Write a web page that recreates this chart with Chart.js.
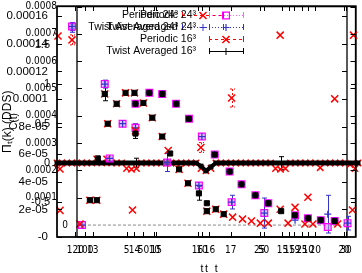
<!DOCTYPE html>
<html><head><meta charset="utf-8">
<script src="https://cdn.jsdelivr.net/npm/chart.js@4.4.1/dist/chart.umd.min.js"></script>
<style>
html,body{margin:0;padding:0;background:#fff;}
#wrap{position:relative;width:362px;height:273px;overflow:hidden;}
#wrap canvas{position:absolute;left:0;top:0;}
</style></head><body>
<div id="wrap">
<canvas id="cP" width="362" height="273"></canvas>
<canvas id="cQ" width="362" height="273"></canvas>
<canvas id="cR" width="362" height="273"></canvas>
</div>
<script>
// ---------- tick labels ----------
const xTickValues = [1.85, 2.8, 3.6, 7.0, 7.8, 8.7, 9.8, 10.0, 14.15, 14.6, 15.35, 17.5, 20.4, 20.8, 22.7, 23.4, 23.9, 24.65, 25.3, 26.0, 28.9, 29.1];
const xTickLabels = ["120","100","13","5","14","50","10","15","16","10","16","17","25","50","15","15","19","25","10","20","20","30"];

const yTicksA = [0.0001,0.0002,0.0003,0.0004,0.0005,0.0006,0.0007,0.0008];
const yLabelsA = ["0.0001","0.0002","0.0003","0.0004","0.0005","0.0006","0.0007","0.0008"];
const yTicksB = [0,2e-5,4e-5,6e-5,8e-5,1e-4,1.2e-4,1.4e-4,1.6e-4];
const yLabelsB = ["-0","2e-05","4e-05","6e-05","8e-05","0.0001","0.00012","0.00014","0.00016"];
const yTicksC = [-0.5,0,0.5,1,1.5];
const yLabelsC = ["-0.5","0","0.5","1","1.5"];

// ---------- Π_t(k) (DDS), main panel ----------
const p24T = [1.5,2.5,4.8,5.3,6.6,7.9,7.9,9.3,10.6,11.1,12.0,13.3,14.3,14.6,15.9,17.4,17.6,18.6,20.0,20.9,21.3,24.0,25.3,26.6,27.3,28.0,29.3];
const p24V = [7.27e-4,0,5.16e-4,2.44e-4,3.71e-4,4.44e-4,3.56e-4,4.84e-4,4.80e-4,2.29e-4,4.44e-4,3.89e-4,1.45e-4,3.24e-4,2.58e-4,1.96e-4,8.4e-5,1.49e-4,1.09e-4,4.4e-5,8.0e-5,3.6e-5,2.5e-5,1.8e-5,-7e-6,1.5e-5,7e-6];
const t24T = [1.5,2.5,4.8,5.3,6.6,7.9,7.9,9.3,10.6,11.1,12.0,13.3,14.3,14.6,15.9,17.4,17.6,18.6,20.0,20.9,21.3,24.0,25.3,26.6,27.3,28.0,29.3];
const t24V = [7.27e-4,0,5.16e-4,2.44e-4,3.71e-4,4.44e-4,3.56e-4,4.84e-4,4.80e-4,2.29e-4,4.44e-4,3.89e-4,1.45e-4,3.24e-4,2.58e-4,1.96e-4,8.4e-5,1.49e-4,1.09e-4,4.4e-5,8.0e-5,1.8e-5,2.5e-5,1.8e-5,4.0e-5,1.5e-5,7e-6];
const t24E = [1.45e-5,0,1.45e-5,0,0,0,1.5e-5,0,0,3.3e-5,0,0,0,0,0,0,2.5e-5,0,0,5.5e-5,0,0,0,0,6.9e-5,0,2.5e-5];
const p16T = [2.3,3.3,4.0,4.8,5.1,6.0,6.9,7.6,7.8,7.9,8.7,9.6,10.6,11.2,12.3,13.2,14.5,15.1,16.0,16.8,17.6,17.7,18.7,19.6,20.5,21.3,22.5,22.5,23.3,24.0,25.0,25.3,25.8,28.0,28.3,29.8,29.9];
const p16V = [4e-6,9.1e-5,9.1e-5,4.80e-4,3.71e-4,4.44e-4,4.84e-4,5.5e-5,4.84e-4,3.45e-4,4.47e-4,3.93e-4,3.24e-4,2.73e-4,2.04e-4,1.53e-4,2.84e-4,5.1e-5,5.8e-5,4.0e-5,4.65e-4,2.9e-5,2.2e-5,1.5e-5,7e-6,7e-6,5.8e-5,6.95e-4,7e-6,6.5e-5,4e-6,1.02e-4,4e-6,4.62e-4,4e-6,5.5e-5,6.95e-4];
const p16E = [0,0,0,0,0,0,0,0,0,0,0,0,0,0,0,0,1.8e-5,0,0,0,3.3e-5,0,0,0,0,0,0,0,0,0,0,0,0,0,0,0,0];
const t16T = [3.3,4.0,4.1,4.8,5.1,6.0,6.9,7.8,7.9,7.9,8.7,9.3,9.6,10.6,10.6,11.4,12.0,12.3,13.2,13.3,14.3,15.1,15.1,15.9,16.0,16.8,17.4,18.6,20.0,21.3,22.6,24.0,25.3,26.6,28.0];
const t16V = [9.1e-5,9.1e-5,2.44e-4,4.80e-4,3.71e-4,4.44e-4,4.84e-4,4.84e-4,4.44e-4,3.35e-4,4.47e-4,4.84e-4,3.93e-4,4.80e-4,3.24e-4,2.62e-4,4.44e-4,2.04e-4,1.53e-4,3.89e-4,1.16e-4,8.0e-5,5.1e-5,2.58e-4,5.8e-5,4.0e-5,1.96e-4,1.49e-4,1.09e-4,8.0e-5,5.1e-5,3.6e-5,2.5e-5,1.8e-5,1.5e-5];
const t16E = [0,0,0,2.5e-5,0,0,0,0,0,1.8e-5,0,0,0,0,0,0,0,0,0,0,2.5e-5,0,0,0,0,0,0,0,0,0,0,0,0,0,0];
const zeroT = [2.6, 29.1];
const zeroV = [0, 0];

// ---------- Π_t(k) (DDS), lower-scale panel ----------
const bRedT = [0.1, 0.3, 0.3, 1.5];
const bRedV = [1.457e-4, 1.93e-5, 4.93e-5, 1.429e-4];
const bRedE = [0, 0, 0, 3.6e-6];
const bBlueT = [1.5];
const bBlueV = [1.514e-4];
const bBlueE = [3e-6];

// ---------- C(t) ----------
const cT = [0,0.5,1,1.5,2,2.5,3,3.5,4,4.5,5,5.5,6,6.5,7,7.5,8,8.5,9,9.5,10,10.5,11,11.5,12,12.5,13,13.5,14,14.5,15,15.5,16,16.5,17,17.5,18,18.5,19,19.5,20,20.5,21,21.5,22,22.5,23,23.5,24,24.5,25,25.5,26,26.5,27,27.5,28,28.5,29,29.5,30,30.3];
const cTwist = [0,0,0,0,0,0,0,0,0,0,
                0,0,0,0,0,0,0,0,0,0,
                0,0,0,0,0,0,0,0,0,-0.04,
                -0.1,-0.05,0,0,0,0,0,0,0,0,
                0,0,0,0,0,0,0,0,0,0,
                0,0,0,0,0,0,0,0,0,0,
                0,0];
const cTwistE = [0,0,0,0,0,0,0,0,0,0,
                 0,0,0,0,0,0,0.06,0,0,0,
                 0,0,0,0,0,0,0,0,0,0,
                 0,0,0,0,0,0,0,0,0,0,
                 0,0,0,0,0,0.08,0,0,0,0,
                 0,0,0,0,0,0,0,0,0,0,
                 0,0];
const cPer = [0,0,0,0,0,0,0,0,0.05,0,
              0.05,0,0,0,-0.07,-0.08,-0.07,0,0,0,
              0,0,0,0,0,0,0,0,0,-0.07,
              -0.1,-0.07,0,0,0,0,0,0,0,0,
              0,0,0,0,-0.07,-0.08,-0.07,0,0,0,
              0,0,0,-0.06,0,0,0,0,0,-0.02,
              -0.07,0];

// ---------- helpers ----------
const SANS = "'Liberation Sans', Arial, Helvetica, sans-serif";
const NARROW = "'Liberation Sans Narrow', 'Arial Narrow', 'DejaVu Sans Condensed', 'Liberation Sans', sans-serif";
Chart.defaults.color = '#000';
Chart.defaults.font.family = SANS;
const pts = (ts, vs) => ts.map((t, i) => ({x: t, y: vs[i]}));

function mark(ctx, style, x, y, r, color, lw, fill) {
  ctx.save(); ctx.setLineDash([]); ctx.strokeStyle = color; ctx.lineWidth = lw; ctx.beginPath();
  if (style === 'rect') { const s = r * Math.SQRT1_2; if (fill) { ctx.fillStyle = color; ctx.fillRect(x - s, y - s, 2 * s, 2 * s); } else ctx.rect(x - s, y - s, 2 * s, 2 * s); }
  if (style === 'cross' || style === 'star') { ctx.moveTo(x - r, y); ctx.lineTo(x + r, y); ctx.moveTo(x, y - r); ctx.lineTo(x, y + r); }
  if (style === 'crossRot' || style === 'star') { const d = r * Math.SQRT1_2; ctx.moveTo(x - d, y - d); ctx.lineTo(x + d, y + d); ctx.moveTo(x - d, y + d); ctx.lineTo(x + d, y - d); }
  ctx.stroke(); ctx.restore();
}

const gnuFrame = {
  id: 'gnuFrame',
  afterDatasetsDraw(chart, args, o) {
    const {ctx, chartArea: a, scales: {x, y}} = chart;
    ctx.save();
    ctx.setLineDash([]);
    ctx.strokeStyle = '#000'; ctx.lineWidth = 1.3;
    ctx.strokeRect(a.left, a.top, a.right - a.left, a.bottom - a.top);
    ctx.lineWidth = 1;
    ctx.beginPath();
    y.ticks.forEach(t => {
      const p = Math.round(y.getPixelForValue(t.value)) + 0.5;
      ctx.moveTo(a.left, p); ctx.lineTo(a.left + 5, p);
      ctx.moveTo(a.right, p); ctx.lineTo(a.right - 5, p);
    });
    if (o.xMarks) x.ticks.forEach(t => {
      const p = Math.round(x.getPixelForValue(t.value)) + 0.5;
      ctx.moveTo(p, a.bottom); ctx.lineTo(p, a.bottom - 5);
      ctx.moveTo(p, a.top); ctx.lineTo(p, a.top + 5);
    });
    ctx.stroke();
    if (o.zeroLabel) {
      ctx.font = '10px ' + NARROW; ctx.textAlign = 'right'; ctx.textBaseline = 'middle'; ctx.fillStyle = '#000';
      ctx.fillText('0', a.left - 9, y.getPixelForValue(0));
    }
    ctx.restore();
  }
};

const errorBars = {
  id: 'errorBars',
  beforeDatasetsDraw(chart) {
    const {ctx, scales: {x, y}} = chart;
    chart.data.datasets.forEach(ds => {
      if (!ds.errors) return;
      ctx.save();
      ctx.strokeStyle = ds.errColor || ds.borderColor; ctx.lineWidth = 1;
      ctx.setLineDash(ds.errDash || []);
      ctx.beginPath();
      ds.data.forEach((p, i) => {
        const e = ds.errors[i]; if (!e) return;
        const px = Math.round(x.getPixelForValue(p.x)) + 0.5;
        const y1 = y.getPixelForValue(p.y - e), y2 = y.getPixelForValue(p.y + e);
        ctx.moveTo(px, y1); ctx.lineTo(px, y2);
        ctx.moveTo(px - 2.5, y1); ctx.lineTo(px + 2.5, y1);
        ctx.moveTo(px - 2.5, y2); ctx.lineTo(px + 2.5, y2);
      });
      ctx.stroke();
      ctx.restore();
    });
  }
};

const gnuKey = {
  id: 'gnuKey',
  afterDraw(chart, args, o) {
    if (!o || !o.rows) return;
    const ctx = chart.ctx;
    ctx.save();
    chart.data.datasets.forEach(ds => {
      if (ds.keyRow == null) return;
      const yy = o.rows[ds.keyRow];
      ctx.font = o.font; ctx.textAlign = 'right'; ctx.textBaseline = 'middle'; ctx.fillStyle = '#000';
      ctx.fillText(ds.label, o.textRight, yy);
      const col = ds.keyColor || ds.borderColor;
      ctx.strokeStyle = col; ctx.lineWidth = 1;
      ctx.setLineDash(ds.keyDash || []);
      ctx.beginPath(); ctx.moveTo(o.x1, yy + 0.5); ctx.lineTo(o.x2, yy + 0.5); ctx.stroke();
      ctx.setLineDash([]);
      ctx.beginPath();
      ctx.moveTo(o.x1 + 0.5, yy - 3); ctx.lineTo(o.x1 + 0.5, yy + 3);
      ctx.moveTo(o.x2 + 0.5, yy - 3); ctx.lineTo(o.x2 + 0.5, yy + 3);
      ctx.stroke();
      mark(ctx, ds.keyMarker || ds.pointStyle, o.xm, yy + 0.5, ds.keyRadius || ds.pointRadius, ds.borderColor, ds.keyWidth || ds.borderWidth, false);
    });
    ctx.restore();
  }
};

function yAxis(o) {
  return {
    type: 'linear', position: 'left', min: o.min, max: o.max,
    grid: {display: false, drawTicks: false}, border: {display: false},
    afterBuildTicks: s => { s.ticks = o.ticks.map(v => ({value: v})); },
    afterFit: s => { s.width = o.width; s.paddingTop = 0; s.paddingBottom = 0; },
    ticks: {autoSkip: false, padding: o.pad, font: o.font, color: '#000', callback: (v, i) => o.labels[i]},
    title: o.title ? {display: true, text: o.title, font: o.titleFont, padding: {top: o.titlePad, bottom: 0}, color: '#000'} : {display: false}
  };
}
function xAxis(o) {
  return {
    type: 'linear', position: 'bottom', min: o.min, max: o.max,
    grid: {display: false, drawTicks: false}, border: {display: false},
    afterBuildTicks: s => { if (o.ticks) s.ticks = o.ticks.map(v => ({value: v})); },
    afterFit: s => { s.height = 36; s.paddingLeft = 0; s.paddingRight = 0; },
    ticks: o.ticks ? {autoSkip: false, maxRotation: 0, minRotation: 0, padding: 7, font: {family: NARROW, size: 10}, color: '#000', callback: (v, i) => o.labels[i]} : {display: false},
    title: {display: true, text: 't', font: {family: SANS, size: 10.5}, padding: {top: 0, bottom: -2}, color: '#000'}
  };
}
function baseOptions(pad, scales, plug) {
  return {
    responsive: false, animation: false, devicePixelRatio: 1, events: [],
    layout: {padding: pad},
    plugins: Object.assign({legend: {display: false}, tooltip: {enabled: false}}, plug),
    scales: scales
  };
}

// ---------- panel P: frame 57..347, scale 0 .. 0.00016 ----------
new Chart(document.getElementById('cP'), {
  type: 'scatter',
  data: {datasets: [
    {label: 'Periodic 24³', data: pts(bRedT, bRedV), pointStyle: 'crossRot', pointRadius: 5, borderColor: '#ff0000', backgroundColor: 'rgba(0,0,0,0)', borderWidth: 1.5, errors: bRedE, errDash: [2, 2], keyRow: 0, keyDash: [3, 3], clip: false},
    {label: 'Twist Averaged 24³', data: pts(bBlueT, bBlueV), pointStyle: 'cross', pointRadius: 3.5, borderColor: '#3333cc', backgroundColor: 'rgba(0,0,0,0)', borderWidth: 1, errors: bBlueE, keyRow: 1, keyDash: [1, 2], clip: false}
  ]},
  options: baseOptions({left: 0, top: 3, right: 362 - 347, bottom: 0}, {
    x: xAxis({min: 0, max: 29}),
    y: yAxis({min: 0, max: 1.671e-4, ticks: yTicksB, labels: yLabelsB, width: 57, pad: 9, font: {family: SANS, size: 11.5},
              title: 'Πₜ(k) (DDS)', titleFont: {family: SANS, size: 12}, titlePad: 0})
  }, {gnuFrame: {}, gnuKey: {rows: [15, 27], textRight: 178, x1: 182, x2: 223, xm: 203, font: '10.5px ' + SANS}}),
  plugins: [errorBars, gnuFrame, gnuKey]
});

// ---------- panel Q: frame 57..358, C(t) ----------
new Chart(document.getElementById('cQ'), {
  type: 'scatter',
  data: {datasets: [
    {label: 'C twist', data: pts(cT, cTwist), showLine: true, borderColor: '#000', borderWidth: 4, pointStyle: 'rect', pointRadius: 3.5, pointBackgroundColor: '#000', pointBorderColor: '#000', pointBorderWidth: 0, errors: cTwistE, errColor: '#000', clip: false, order: 0},
    {label: 'C periodic', data: pts(cT, cPer), pointStyle: 'crossRot', pointRadius: 4.5, borderColor: '#ff0000', pointBorderColor: '#ff0000', backgroundColor: 'rgba(0,0,0,0)', borderWidth: 1.5, clip: false, order: 1}
  ]},
  options: baseOptions({left: 0, top: 3, right: 362 - 358, bottom: 0}, {
    x: xAxis({min: 0, max: 30.1, ticks: xTickValues, labels: xTickLabels}),
    y: yAxis({min: -(237 - 162) / 80, max: (162 - 3) / 80, ticks: yTicksC, labels: yLabelsC, width: 57, pad: 7, font: {family: SANS, size: 11},
              title: 'C(t)', titleFont: {family: SANS, size: 10}, titlePad: 8})
  }, {gnuFrame: {xMarks: true}}),
  plugins: [errorBars, gnuFrame]
});

// ---------- panel R: frame 77..358, scale 0 .. 0.0008 ----------
new Chart(document.getElementById('cR'), {
  type: 'scatter',
  data: {datasets: [
    {label: 'Twist Averaged 16³', data: pts(t16T, t16V), pointStyle: 'rect', pointRadius: 3.6, borderColor: '#000', backgroundColor: '#000', borderWidth: 1, errors: t16E, errColor: '#000', keyRow: 3, keyDash: [], keyMarker: 'cross', keyRadius: 3.5, clip: false, order: 0},
    {label: 'Periodic 16³', data: pts(p16T, p16V), pointStyle: 'crossRot', pointRadius: 5, borderColor: '#ff0000', backgroundColor: 'rgba(0,0,0,0)', borderWidth: 1.5, errors: p16E, errDash: [2, 2], keyRow: 2, keyDash: [3, 3], clip: false, order: 1},
    {label: 'Twist Averaged 24³', data: pts(t24T, t24V), pointStyle: 'cross', pointRadius: 3.5, borderColor: '#3333cc', backgroundColor: 'rgba(0,0,0,0)', borderWidth: 1.2, errors: t24E, keyRow: 1, keyDash: [1, 2], clip: false, order: 2},
    {label: 'Periodic 24³', data: pts(p24T, p24V), pointStyle: 'rect', pointRadius: 4.8, borderColor: '#ff00ff', backgroundColor: 'rgba(190,150,255,0.55)', borderWidth: 1.2, keyRow: 0, keyDash: [1, 2], keyColor: '#ff66ff', clip: false, order: 3},
    {label: 'zero', data: pts(zeroT, zeroV), showLine: true, borderColor: '#888', borderDash: [3, 2], borderWidth: 1, pointRadius: 0, clip: false, order: 4}
  ]},
  options: baseOptions({left: 0, top: 5, right: 362 - 358, bottom: 0}, {
    x: xAxis({min: 2, max: 30.1}),
    y: yAxis({min: -12 / 275000, max: 220 / 275000, ticks: yTicksA, labels: yLabelsA, width: 77, pad: 20, font: {family: NARROW, size: 10}})
  }, {gnuFrame: {zeroLabel: true}, gnuKey: {rows: [15, 27, 39, 51], textRight: 196, x1: 209, x2: 243, xm: 226, font: '10.5px ' + SANS}}),
  plugins: [errorBars, gnuFrame, gnuKey]
});
</script>
</body></html>
